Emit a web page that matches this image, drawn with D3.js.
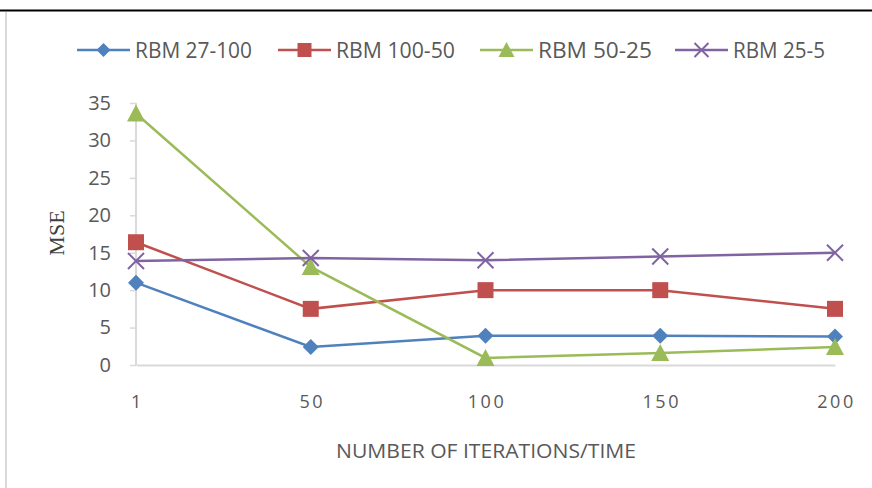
<!DOCTYPE html>
<html><head><meta charset="utf-8">
<script src="https://cdn.jsdelivr.net/npm/d3@7"></script>
<style>html,body{margin:0;padding:0;background:#fff;}svg{display:block;}</style>
</head><body>
<svg id="chart" width="872" height="488"></svg>
<script>
const categories = ["1", "50", "100", "150", "200"];
const seriesNames = ["RBM 27-100", "RBM 100-50", "RBM 50-25", "RBM 25-5"];
const rbm27_100 = [11, 2.4, 3.9, 3.9, 3.8];
const rbm100_50 = [16.4, 7.5, 10, 10, 7.5];
const rbm50_25 = [33.6, 13.1, 0.95, 1.6, 2.4];
const rbm25_5 = [13.9, 14.3, 14.0, 14.5, 15.0];
const yTicks = [0, 5, 10, 15, 20, 25, 30, 35];
const colors = ["#4F81BD", "#C0504D", "#9BBB59", "#8064A2"];
const symbols = ["diamond", "square", "triangle", "x"];

const seriesValues = [rbm27_100, rbm100_50, rbm50_25, rbm25_5];
const svg = d3.select("#chart");

// frame
svg.append("line").attr("x1", 0).attr("x2", 872).attr("y1", 10.5).attr("y2", 10.5)
  .attr("stroke", "#000").attr("stroke-width", 2);
svg.append("line").attr("x1", 6).attr("x2", 6).attr("y1", 12).attr("y2", 488)
  .attr("stroke", "#d9d9d9").attr("stroke-width", 2);

const x = d3.scalePoint().domain(categories).range([136, 835]);
const y = d3.scaleLinear().domain([0, 35]).range([365, 103]);

// y axis
const yAxis = svg.append("g").attr("transform", "translate(136,0)")
  .call(d3.axisLeft(y).tickValues(yTicks).tickSize(6).tickPadding(19));
yAxis.attr("font-size", null).attr("font-family", null);
yAxis.select(".domain").attr("stroke", "#d9d9d9").attr("stroke-width", 2).attr("d", `M0,${y(35)}V${y(0)}`);
yAxis.selectAll(".tick line").attr("stroke", "#d9d9d9").attr("stroke-width", 1.5);
yAxis.selectAll(".tick text").attr("fill", "#595959")
  .style("font-size", "20px")
  .style("font-family", "'Open Sans', 'Liberation Sans', sans-serif");

// x axis
const xAxis = svg.append("g").attr("transform", "translate(0,365)")
  .call(d3.axisBottom(x).tickSize(0).tickPadding(30));
xAxis.attr("font-size", null).attr("font-family", null);
xAxis.select(".domain").attr("stroke", "#d9d9d9").attr("stroke-width", 2);
xAxis.selectAll(".tick text").attr("fill", "#595959")
  .style("font-size", "18px").style("letter-spacing", "2.5px").attr("dx", "1px")
  .style("font-family", "'Open Sans', 'Liberation Sans', sans-serif");

// axis titles
svg.append("text").attr("x", 486).attr("y", 458).attr("text-anchor", "middle")
  .attr("fill", "#595959").style("font-size", "20px")
  .style("font-family", "'Open Sans', sans-serif")
  .attr("textLength", 300).attr("lengthAdjust", "spacingAndGlyphs")
  .text("NUMBER OF ITERATIONS/TIME");
svg.append("text").attr("transform", "translate(64,233) rotate(-90)")
  .attr("text-anchor", "middle").attr("fill", "#404040").style("font-size", "22px")
  .style("font-family", "'Liberation Serif', 'DejaVu Serif', serif")
  .text("MSE");

function drawMarker(g, type, color, size) {
  if (type === "diamond") {
    g.append("path").attr("d", `M0,${-size}L${size},0L0,${size}L${-size},0Z`).attr("fill", color);
  } else if (type === "square") {
    g.append("rect").attr("x", -size).attr("y", -size).attr("width", 2 * size).attr("height", 2 * size).attr("fill", color);
  } else if (type === "triangle") {
    g.append("path").attr("d", `M0,${-size - 1}L${size + 1},${size}L${-size - 1},${size}Z`).attr("fill", color);
  } else {
    g.append("path").attr("d", `M${-size},${-size}L${size},${size}M${size},${-size}L${-size},${size}`)
      .attr("stroke", color).attr("stroke-width", 2);
  }
}

const line = d3.line().x((d, i) => x(categories[i])).y(d => y(d));
seriesValues.forEach((vals, s) => {
  svg.append("path").datum(vals).attr("d", line).attr("fill", "none")
    .attr("stroke", colors[s]).attr("stroke-width", 2.5);
});
seriesValues.forEach((vals, s) => {
  vals.forEach((v, i) => {
    const g = svg.append("g").attr("transform", `translate(${x(categories[i])},${y(v)})`);
    drawMarker(g, symbols[s], colors[s], 8);
  });
});

// legend
const legendX = [77, 278, 480, 675];
const legendW = [117, 119, 114, 92];
seriesNames.forEach((name, s) => {
  const g = svg.append("g").attr("transform", `translate(${legendX[s]},50)`);
  g.append("line").attr("x1", 0).attr("x2", 53).attr("stroke", colors[s]).attr("stroke-width", 2.5);
  const m = g.append("g").attr("transform", "translate(26.5,0)");
  drawMarker(m, symbols[s], colors[s], 7);
  g.append("text").attr("x", 58).attr("y", 7.5).attr("fill", "#595959").style("font-size", "21px")
    .style("font-family", "'Open Sans', sans-serif")
    .attr("textLength", legendW[s]).attr("lengthAdjust", "spacingAndGlyphs")
    .text(name);
});
</script>
</body></html>
